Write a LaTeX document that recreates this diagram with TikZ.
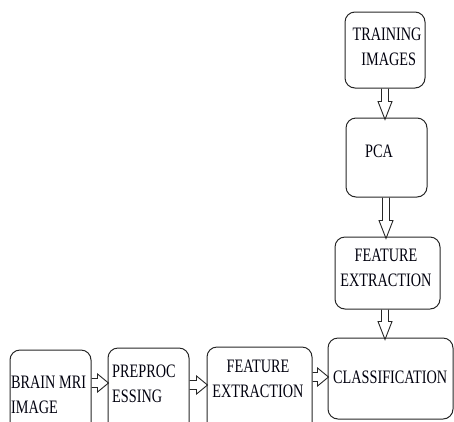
\documentclass[tikz,border=0pt]{standalone}
\usepackage{fontspec}
\newfontfamily\tnr[FakeStretch=0.75]{Liberation Serif}
\usetikzlibrary{calc}
\begin{document}
\begin{tikzpicture}[x=1pt,y=-1pt,
  box/.style={draw=black!85, line width=1pt, rounded corners=10pt, inner sep=0pt},
  txt/.style={inner sep=0pt, font=\tnr\fontsize{19}{25}\selectfont, text=black!95!blue},
  varr/.style={draw=black!85, line width=0.9pt, to path={let \p1=(\tikztostart), \p2=(\tikztotarget) in
      (\x1-3.5pt,\y1) -- (\x1-3.5pt,\y2+16pt) -- (\x1-7pt,\y2+16pt) -- (\x1,\y2-2pt)
      -- (\x1+7pt,\y2+16pt) -- (\x1+3.5pt,\y2+16pt) -- (\x1+3.5pt,\y1)}},
  harr/.style={draw=black!85, line width=0.9pt, to path={let \p1=(\tikztostart), \p2=(\tikztotarget) in
      (\x1,\y1+4.5pt) -- (\x2-10pt,\y1+4.5pt) -- (\x2-10pt,\y1+9pt) -- (\x2+1pt,\y1)
      -- (\x2-10pt,\y1-9pt) -- (\x2-10pt,\y1-4.5pt) -- (\x1,\y1-4.5pt)}}]
\useasboundingbox (0,0) rectangle (454,421);
% boxes
\node[box, minimum width=80pt, minimum height=76pt] (tr) at (385,50) {};
\node[box, minimum width=81pt, minimum height=79pt] (pca) at (386.5,157.5) {};
\node[box, minimum width=105pt, minimum height=72pt] (fe2) at (387.5,273) {};
\node[box, minimum width=125pt, minimum height=81pt] (cls) at (390.5,378.5) {};
\node[box, minimum width=81pt, minimum height=85pt] (brain) at (50.5,392.5) {};
\node[box, minimum width=81pt, minimum height=87pt] (prep) at (148.5,391.5) {};
\node[box, minimum width=105pt, minimum height=88pt] (fe1) at (259.5,391) {};
% texts
\node[txt, anchor=north, align=center] (trt) at (387,27.4) {TRAINING\\\ IMAGES};
\node[txt, anchor=north west] (pcat) at (365,144.4) {PCA};
\node[txt, anchor=north, align=center] (fe2t) at (386,248.4) {FEATURE\\EXTRACTION};
\node[txt, anchor=north west] (clst) at (333,370.4) {CLASSIFICATION};
\node[txt, anchor=north west, align=left] (braint) at (11,375.4) {BRAIN MRI\\IMAGE};
\node[txt, anchor=north west, align=left] (prept) at (112,364.4) {PREPROC\\ESSING};
\node[txt, anchor=north, align=center] (fe1t) at (258,359.4) {FEATURE\\EXTRACTION};
% arrows
\draw[varr] (tr.south) to (pca.north);
\draw[varr] ([xshift=-0.5pt]pca.south) to ([xshift=-0.5pt]fe2.north);
\draw[varr] ([xshift=-2.5pt]fe2.south) to ([xshift=-2.5pt]cls.north);
\draw[harr] ([yshift=9.5pt]brain.east) to (prep.west);
\draw[harr] ([yshift=6.5pt]prep.east) to (fe1.west);
\draw[harr] ([yshift=14pt]fe1.east) to (cls.west);
\end{tikzpicture}
\end{document}
